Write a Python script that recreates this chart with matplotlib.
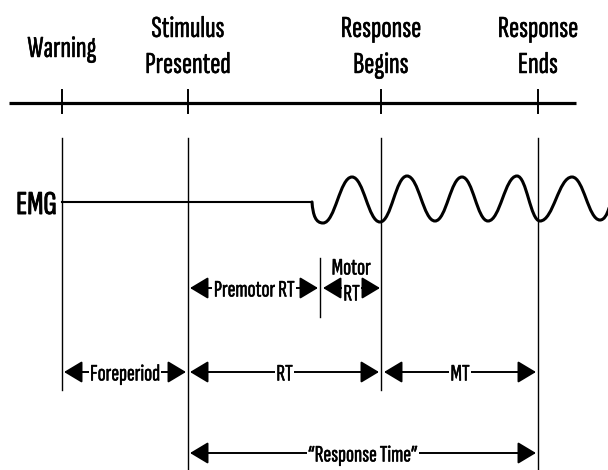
import matplotlib.pyplot as plt
import matplotlib.patheffects as pe
from matplotlib.path import Path
from matplotlib.patches import PathPatch, FancyArrowPatch

plt.rcParams['font.family'] = ['Sofia Sans Extra Condensed', 'DejaVu Sans']

# events on the time line (pixel positions of the original figure)
event_x = [62, 188, 381, 538]
event_top = [["Warning"], ["Stimulus", "Presented"], ["Response", "Begins"], ["Response", "Ends"]]
event_line_end = [390, 470, 390, 470]

# EMG trace: flat part then wave extrema
emg_flat_x = [62, 312]
emg_flat_y = [202, 202]
wave_x = [323, 352, 380, 407, 435, 462, 488, 517, 540, 572, 600]
wave_y = [223, 177, 222, 176, 221, 177, 221, 176, 221, 177, 220]

# intervals : (start, end, y, label)
intervals = [
    (64, 186, 372, "Foreperiod"),
    (190, 379, 372, "RT"),
    (384, 536, 372, "MT"),
    (190, 536, 453, "\u201cResponse Time\u201d"),
    (190, 318, 288, "Premotor RT"),
    (323, 380, 288, "RT"),
]

bold = [pe.withStroke(linewidth=0.35, foreground='black')]

fig = plt.figure(figsize=(6.08, 4.70), dpi=100)
ax = fig.add_axes([0, 0, 1, 1])
ax.set_xlim(0, 608)
ax.set_ylim(470, 0)
ax.axis('off')

# time line
ax.plot([9, 576], [103, 103], color='black', lw=2.3, solid_capstyle='butt')
for i, x in enumerate(event_x):
    ax.plot([x, x], [90, 113], color='black', lw=1.4)
    ax.plot([x, x], [138, event_line_end[i]], color='black', lw=1.0)
    lines = event_top[i]
    if len(lines) == 1:
        ax.text(x, 57, lines[0], ha='center', va='baseline', fontsize=22, path_effects=bold)
    else:
        ax.text(x, 37, lines[0], ha='center', va='baseline', fontsize=22, path_effects=bold)
        ax.text(x, 73, lines[1], ha='center', va='baseline', fontsize=22, path_effects=bold)

# EMG
ax.text(57, 202, "EMG", ha='right', va='center_baseline', fontsize=24,
        path_effects=[pe.withStroke(linewidth=0.7, foreground='black')])
ax.plot(emg_flat_x, emg_flat_y, color='black', lw=1.5)

verts = [(emg_flat_x[-1], emg_flat_y[-1]),
         (emg_flat_x[-1] + 1, emg_flat_y[-1] + 14),
         (wave_x[0] - 7, wave_y[0]),
         (wave_x[0], wave_y[0])]
codes = [Path.MOVETO, Path.CURVE4, Path.CURVE4, Path.CURVE4]
for j in range(1, len(wave_x)):
    x0, y0 = wave_x[j - 1], wave_y[j - 1]
    x1, y1 = wave_x[j], wave_y[j]
    dx = x1 - x0
    verts += [(x0 + 0.42 * dx, y0), (x1 - 0.42 * dx, y1), (x1, y1)]
    codes += [Path.CURVE4] * 3
verts += [(604, 220), (607, 215), (609, 208)]
codes += [Path.CURVE4] * 3
ax.add_patch(PathPatch(Path(verts, codes), fill=False, lw=2.2, color='black',
                       capstyle='round'))

# premotor / motor divider
ax.plot([320, 320], [258, 317], color='black', lw=1.0)
ax.text(351, 266, "Motor", ha='center', va='center_baseline', fontsize=17, path_effects=bold)

for start, end, y, label in intervals:
    ax.add_patch(FancyArrowPatch((start, y), (end, y),
                                 arrowstyle='<|-|>,head_length=0.75,head_width=0.45',
                                 color='black', lw=1.4, shrinkA=0, shrinkB=0,
                                 mutation_scale=15))
    ty = y + 4 if label == "RT" and y == 288 else y
    ax.text((start + end) / 2, ty, label, ha='center', va='center_baseline',
            fontsize=17, zorder=5, path_effects=bold,
            bbox=dict(fc='white', ec='none', pad=1.0))

fig.savefig('out.png', dpi=100)
